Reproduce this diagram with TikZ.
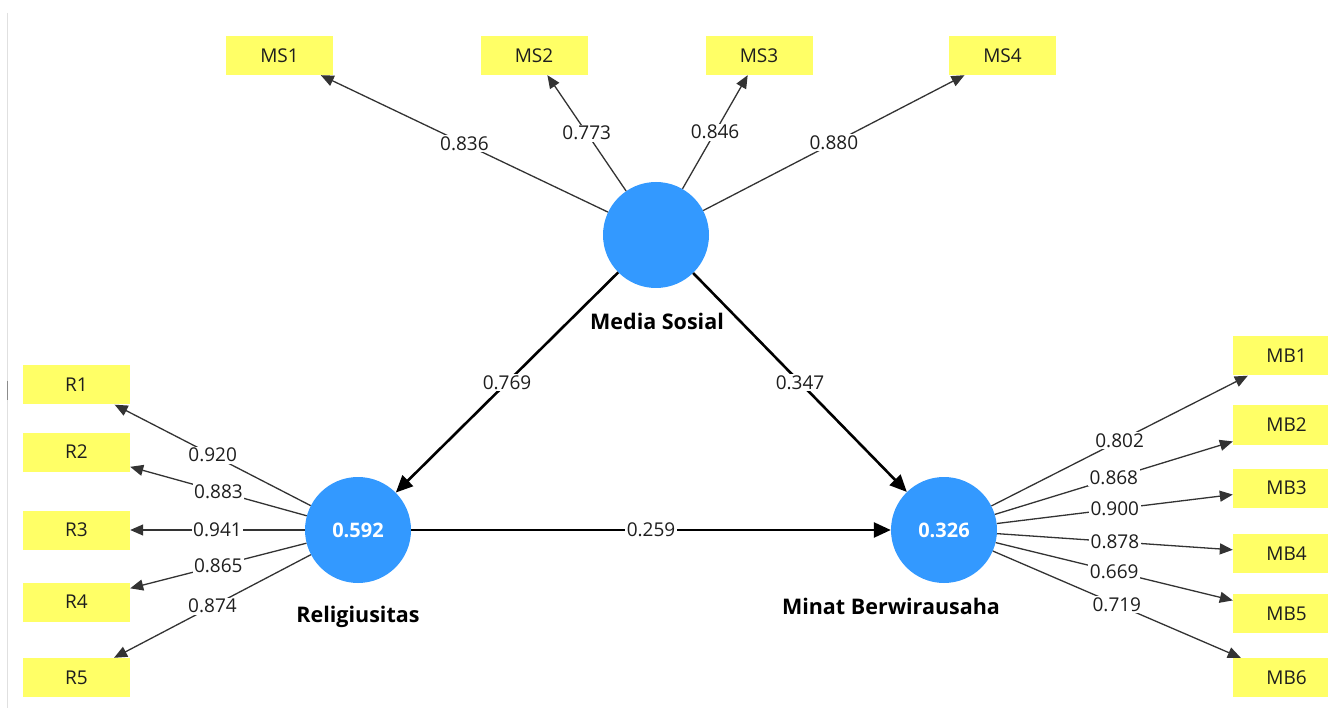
\documentclass[tikz,border=0pt]{standalone}
\usepackage{fontspec}
\setmainfont{Open Sans}
\usetikzlibrary{arrows.meta}
\definecolor{lvblue}{RGB}{51,153,255}
\definecolor{indyellow}{RGB}{255,255,102}
\definecolor{txtdark}{RGB}{30,30,30}
\begin{document}
\begin{tikzpicture}[x=1pt,y=-1pt,
  latent/.style={circle,fill=lvblue,minimum size=106pt,inner sep=0pt,text=white,font=\fontsize{20}{24}\selectfont\bfseries},
  indicator/.style={rectangle,fill=indyellow,minimum width=107pt,minimum height=39pt,inner sep=0pt,text=txtdark,font=\fontsize{19}{23}\selectfont},
  lvname/.style={text=black,font=\fontsize{21.5}{25}\selectfont\bfseries},
  loading/.style={draw=black!80,line width=1.3pt,-{Triangle[length=13pt,width=11pt]}},
  structural/.style={draw=black,line width=2.6pt,-{Triangle[length=17pt,width=15pt]}},
  coef/.style={fill=white,inner sep=1.5pt,text=txtdark,font=\fontsize{19}{23}\selectfont},
]
\clip (0,0) rectangle (1328,708);
\fill[white] (0,0) rectangle (1328,708);
% window edge
\draw[black!12,line width=1pt] (7.5,13) -- (7.5,708);
\draw[black!45,line width=1.5pt] (7.5,381) -- (7.5,400);

% latent variables
\node[latent] (MS) at (656,235) {};
\node[latent] (R) at (358,530) {0.592};
\node[latent] (MB) at (944,530) {0.326};
\node[lvname] (MSname) at (657,321) {Media Sosial};
\node[lvname] (Rname) at (358,617) {Religiusitas};
\node[lvname] (MBname) at (891,606) {Minat Berwirausaha};

% indicators
\node[indicator] (ms1) at (279.5,55.5) {MS1};
\node[indicator] (ms2) at (534,55.5) {MS2};
\node[indicator] (ms3) at (759,55.5) {MS3};
\node[indicator] (ms4) at (1002.5,55.5) {MS4};
\node[indicator] (r1) at (76.5,385) {R1};
\node[indicator] (r2) at (76.5,452) {R2};
\node[indicator] (r3) at (76.5,530) {R3};
\node[indicator] (r4) at (76.5,602) {R4};
\node[indicator] (r5) at (76.5,677.5) {R5};
\node[indicator] (mb1) at (1286.5,356) {MB1};
\node[indicator] (mb2) at (1286.5,425) {MB2};
\node[indicator] (mb3) at (1286.5,488) {MB3};
\node[indicator] (mb4) at (1286.5,553.5) {MB4};
\node[indicator] (mb5) at (1286.5,613.5) {MB5};
\node[indicator] (mb6) at (1286.5,677.5) {MB6};

% outer loadings
\draw[loading] (MS) -- node[coef]{0.836} (ms1);
\draw[loading] (MS) -- node[coef]{0.773} (ms2);
\draw[loading] (MS) -- node[coef]{0.846} (ms3);
\draw[loading] (MS) -- node[coef]{0.880} (ms4);
\draw[loading] (R) -- node[coef]{0.920} (r1);
\draw[loading] (R) -- node[coef]{0.883} (r2);
\draw[loading] (R) -- node[coef]{0.941} (r3);
\draw[loading] (R) -- node[coef]{0.865} (r4);
\draw[loading] (R) -- node[coef]{0.874} (r5);
\draw[loading] (MB) -- node[coef]{0.802} (mb1);
\draw[loading] (MB) -- node[coef]{0.868} (mb2);
\draw[loading] (MB) -- node[coef]{0.900} (mb3);
\draw[loading] (MB) -- node[coef]{0.878} (mb4);
\draw[loading] (MB) -- node[coef]{0.669} (mb5);
\draw[loading] (MB) -- node[coef]{0.719} (mb6);

% structural paths
\draw[structural] (MS) -- node[coef]{0.769} (R);
\draw[structural] (MS) -- node[coef]{0.347} (MB);
\draw[structural] (R) -- node[coef]{0.259} (MB);
\end{tikzpicture}
\end{document}
